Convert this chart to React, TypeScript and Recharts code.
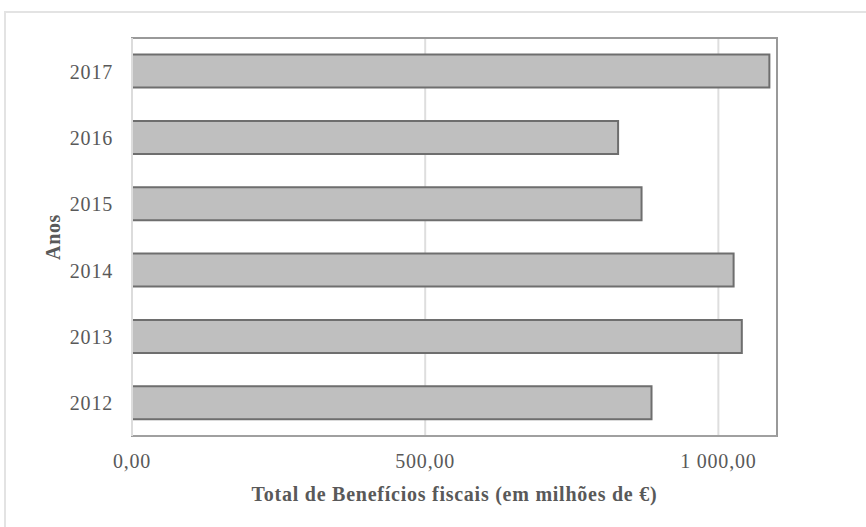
import React from "react";
import { BarChart, Bar, XAxis, YAxis, CartesianGrid, ReferenceArea } from "recharts";

const years = ["2012", "2013", "2014", "2015", "2016", "2017"];
const totals = [886, 1040, 1026, 869, 829, 1087];
const xTicks = [0, 500, 1000];
const xMax = 1100;
const xTitle = "Total de Benefícios fiscais (em milhões de €)";
const yTitle = "Anos";

const data = years.map((y, i) => ({ year: y, total: totals[i] }));

const fmt = (v: number) => {
  const [i, d] = v.toFixed(2).split(".");
  return i.replace(/\B(?=(\d{3})+(?!\d))/g, " ") + "," + d;
};

const FONT = '"Liberation Serif", "Times New Roman", serif';
const TEXT = "#595959";

const XTick = (p: any) => (
  <text x={p.x} y={p.y + 32} textAnchor="middle" fill={TEXT} fontFamily={FONT} fontSize={20} letterSpacing={0.8}>
    {fmt(p.payload.value)}
  </text>
);

const YTick = (p: any) => (
  <text x={p.x - 19} y={p.y + 7.5} textAnchor="end" fill={TEXT} fontFamily={FONT} fontSize={20} letterSpacing={0.8}>
    {p.payload.value}
  </text>
);

const XLabel = (p: any) => {
  const vb = p.viewBox || {};
  return (
    <text
      x={vb.x + vb.width / 2}
      y={vb.y + 64.5}
      textAnchor="middle"
      fill={TEXT}
      fontFamily={FONT}
      fontSize={20}
      fontWeight="bold"
      letterSpacing={0.75}
    >
      {xTitle}
    </text>
  );
};

const YLabel = (p: any) => {
  const vb = p.viewBox || {};
  const cx = 52.5;
  const cy = vb.y + vb.height / 2;
  return (
    <text
      x={cx}
      y={cy}
      transform={`rotate(-90, ${cx}, ${cy})`}
      textAnchor="middle"
      dominantBaseline="central"
      fill={TEXT}
      fontFamily={FONT}
      fontSize={20}
      fontWeight="bold"
      letterSpacing={0.6}
    >
      {yTitle}
    </text>
  );
};

export default function App() {
  return (
    <div
      style={{
        position: "fixed",
        left: 0,
        top: 0,
        width: 866,
        height: 527,
        overflow: "hidden",
        background: "#ffffff",
      }}
    >
      <div
        style={{
          position: "absolute",
          left: 4,
          top: 11,
          width: 1000,
          height: 1000,
          border: "2px solid #e3e3e3",
        }}
      />
      <div style={{ position: "absolute", left: 0, top: 0 }}>
        <BarChart
          width={866}
          height={527}
          data={data}
          layout="vertical"
          margin={{ top: 38, right: 89, bottom: 0, left: 0 }}
          barCategoryGap="25%"
        >
          <CartesianGrid horizontal={false} vertical={true} stroke="#dedede" strokeWidth={2} />
          <XAxis
            type="number"
            domain={[0, xMax]}
            ticks={xTicks}
            height={91}
            axisLine={{ stroke: "#a0a0a0", strokeWidth: 2 }}
            tickLine={false}
            tickSize={0}
            tickMargin={0}
            tick={<XTick />}
            label={<XLabel />}
            interval={0}
          />
          <YAxis
            type="category"
            dataKey="year"
            reversed
            width={132}
            axisLine={{ stroke: "#dcdcdc", strokeWidth: 2 }}
            tickLine={false}
            tickSize={0}
            tickMargin={0}
            tick={<YTick />}
            label={<YLabel />}
            interval={0}
          />
          <ReferenceArea x1={0} x2={xMax} fill="none" stroke="#999999" strokeWidth={2} fillOpacity={0} />
          <Bar
            dataKey="total"
            fill="#bfbfbf"
            stroke="#6e6e6e"
            strokeWidth={2}
            isAnimationActive={false}
          />
        </BarChart>
      </div>
    </div>
  );
}
